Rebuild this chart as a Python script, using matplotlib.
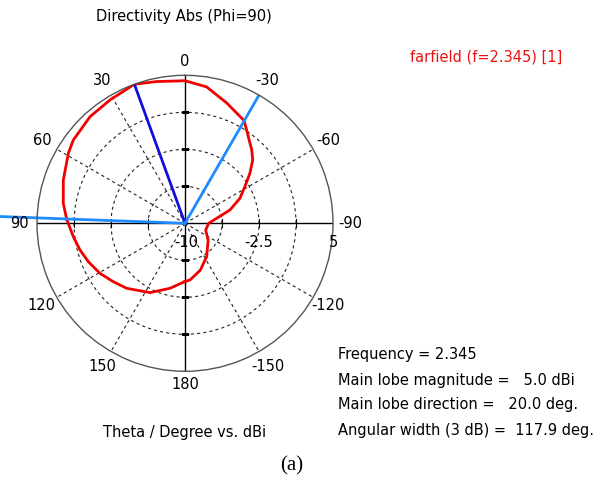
import numpy as np
import matplotlib.pyplot as plt

plt.rcParams["font.family"] = ["DejaVu Sans"]

# directivity cut at phi = 90, theta in degrees, values in dBi
theta_deg = [-180, -175, -162, -147, -126, -108, -90, -81, -73.5, -65.6,
             -58.6, -52.4, -46.9, -42.3, -36.2, -30, -19.2, -9, 0, 11.3,
             20, 31.3, 41.7, 53.3, 59, 70.4, 80.7, 88, 96.8, 104.3,
             111.7, 120.5, 129.2, 138.1, 153.2, 167, 180]
dbi = [-4.1, -4.23, -5.0, -5.97, -7.1, -7.8, -7.6, -6.75, -5.25, -3.9,
       -2.9, -1.7, -0.6, 0.05, 0.87, 2.0, 2.9, 4.0, 4.45, 4.65,
       5.0, 4.63, 4.47, 4.12, 3.79, 3.09, 2.5, 2.0, 1.4, 0.98,
       0.54, 0.0, -0.63, -1.15, -2.13, -3.24, -4.1]

freq = 2.345
main_mag = 5.0
main_dir = 20.0
beam_width = 117.9
beam_edges = [-30.0, 87.9]

r_min, r_max = -10, 5
rings = [-6.25, -2.5, 1.25]
r_labels = [-10, -2.5, 5]
angle_ticks = [0, 30, 60, 90, 120, 150, 180, -150, -120, -90, -60, -30]

W, H = 614, 488
fig = plt.figure(figsize=(W / 100, H / 100), dpi=100)

# polar area: centre at (185, 223) px, radius 148 px
cx, cy, R = 185, 223.3, 148
ax = fig.add_axes([(cx - R) / W, (H - cy - R) / H, 2 * R / W, 2 * R / H],
                  projection="polar")
ax.set_theta_zero_location("N")
ax.set_theta_direction(1)

ax.set_yticks(rings)
ax.set_yticklabels([])
spokes = [a % 360 for a in angle_ticks if a % 90 != 0]
ax.set_xticks(np.radians(spokes))
ax.set_xticklabels([])
ax.tick_params(length=0)
ax.grid(True, color="#222222", ls=(0, (2.8, 2.8)), lw=0.8)
ax.spines["polar"].set_color("#555555")
ax.spines["polar"].set_linewidth(1.0)

# solid axes through the centre, with small ticks where the rings cross
ax.plot([0, np.pi], [r_max, r_max], color="black", lw=1.0)
ax.plot([np.pi / 2, 1.5 * np.pi], [r_max, r_max], color="black", lw=1.0)
for rr in rings:
    ax.plot([np.pi / 2, 1.5 * np.pi], [rr, rr], ls="none", marker="|",
            ms=6, color="black", mew=0.8)
    ax.plot([0, np.pi], [rr, rr], ls="none", marker="_",
            ms=6, color="black", mew=0.8)

# angle labels round the outside
for a in angle_ticks:
    rr = 6.35 if a in (0, 180) else 6.75
    ax.text(np.radians(a), rr, str(a), ha="center", va="center",
            fontsize=10.5, clip_on=False)

# radial scale labels along the -90 axis
ax.annotate("-10", xy=(0, r_min), xytext=(1, -19), textcoords="offset pixels",
            ha="center", va="center", fontsize=10.5)
for v in r_labels[1:]:
    ax.annotate(str(v), xy=(np.radians(270), v), xytext=(0, -19),
                textcoords="offset pixels", ha="center", va="center",
                fontsize=10.5)

# pattern
ax.plot(np.radians(theta_deg), dbi, color="#f00000", lw=2.0)

# main lobe and 3 dB beam edges
ax.plot([0, np.radians(main_dir)], [r_min, main_mag], color="#1010dd", lw=2.0)
ax.plot([0, np.radians(beam_edges[0])], [r_min, r_max], color="#1e8cff", lw=2.0)
ax.plot([0, np.radians(beam_edges[1])], [r_min, 8.8], color="#1e8cff", lw=2.0,
        clip_on=False)

ax.set_xlim(0, 2 * np.pi)
ax.set_ylim(r_min, r_max)

def px_text(x, y, s, **kw):
    fig.text(x / W, 1 - y / H, s, **kw)

px_text(184, 17, "Directivity Abs (Phi=90)", ha="center", va="center", fontsize=10.5)
px_text(410, 57, "farfield (f=%.3f) [1]" % freq, ha="left", va="center",
        fontsize=10.5, color="#ee1111")
px_text(185, 432, "Theta / Degree vs. dBi", ha="center", va="center", fontsize=10.5)

info = ["Frequency = %.3f" % freq,
        "Main lobe magnitude =   %.1f dBi" % main_mag,
        "Main lobe direction =   %.1f deg." % main_dir,
        "Angular width (3 dB) =  %.1f deg." % beam_width]
for i, line in enumerate(info):
    px_text(338, 355 + 25 * i, line, ha="left", va="center", fontsize=10.5)

px_text(292, 466, "(a)", ha="center", va="center", fontsize=15,
        family="Liberation Serif")

fig.savefig("out.png", dpi=100)
